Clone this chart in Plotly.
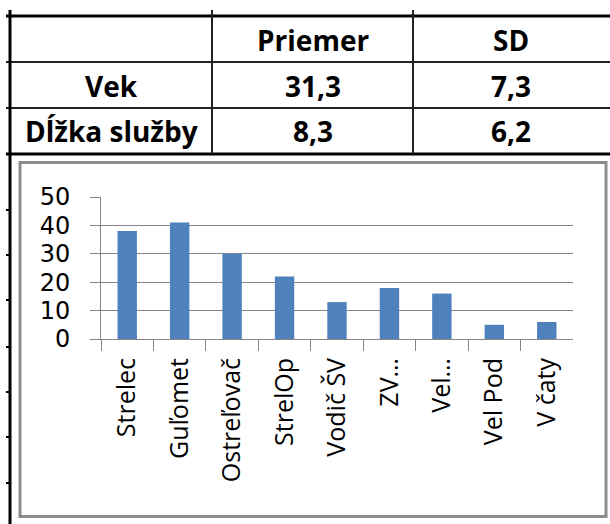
import plotly.graph_objects as go

# ---- data ----
table_cols = ["", "Priemer", "SD"]
table_rows = ["Vek", "Dĺžka služby"]
priemer = ["31,3", "8,3"]
sd = ["7,3", "6,2"]

categories = ["Strelec", "Guľomet", "Ostreľovač", "StrelOp", "Vodič ŠV",
              "ZV…", "Vel…", "Vel Pod", "V čaty"]
counts = [38, 41, 30, 22, 13, 18, 16, 5, 6]
y_ticks = [0, 10, 20, 30, 40, 50]

W, H = 610, 524


def px(x):
    return x / W


def py(y):
    return 1 - y / H


fig = go.Figure()
fig.add_trace(go.Bar(x=categories, y=counts, marker=dict(color="#4F81BD", line=dict(width=0)),
                     hoverinfo="skip"))

shapes = []
# chart border
shapes.append(dict(type="rect", xref="paper", yref="paper", x0=px(20), x1=px(606),
                   y0=py(516.5), y1=py(162.5), line=dict(color="#8c8c8c", width=3),
                   fillcolor="white", layer="below"))
# table grid
col_x = [212, 413]
row_y = [62, 108]
top_y, bot_y, left_x = 16, 154, 10
shapes.append(dict(type="line", xref="paper", yref="paper", x0=px(6), x1=1,
                   y0=py(top_y), y1=py(top_y), line=dict(color="#000", width=3)))
shapes.append(dict(type="line", xref="paper", yref="paper", x0=px(6), x1=1,
                   y0=py(bot_y), y1=py(bot_y), line=dict(color="#000", width=3)))
for ry in row_y:
    shapes.append(dict(type="line", xref="paper", yref="paper", x0=px(6), x1=1,
                       y0=py(ry), y1=py(ry), line=dict(color="#222", width=2)))
for cx in col_x:
    shapes.append(dict(type="line", xref="paper", yref="paper", x0=px(cx), x1=px(cx),
                       y0=py(10), y1=py(bot_y), line=dict(color="#222", width=2)))
shapes.append(dict(type="line", xref="paper", yref="paper", x0=px(left_x), x1=px(left_x),
                   y0=py(10), y1=0, line=dict(color="#000", width=3)))
for ty in [210, 255, 300, 347, 392, 437, 483]:
    shapes.append(dict(type="line", xref="paper", yref="paper", x0=px(6), x1=px(left_x),
                       y0=py(ty), y1=py(ty), line=dict(color="#000", width=2)))

# table text
annotations = []
col_centers = [111, 312.5, 511]
row_centers = [40, 86, 131]
font_tbl = dict(family="Open Sans", size=28, color="#000")
for j, t in enumerate(table_cols):
    if t:
        annotations.append(dict(x=px(col_centers[j]), y=py(row_centers[0]), xref="paper", yref="paper",
                                text="<b>%s</b>" % t, showarrow=False, font=font_tbl,
                                xanchor="center", yanchor="middle"))
for i, r in enumerate(table_rows):
    vals = [r, priemer[i], sd[i]]
    for j, v in enumerate(vals):
        annotations.append(dict(x=px(col_centers[j]), y=py(row_centers[i + 1]), xref="paper", yref="paper",
                                text="<b>%s</b>" % v, showarrow=False, font=font_tbl,
                                xanchor="center", yanchor="middle"))

fig.update_layout(
    width=W, height=H, margin=dict(l=0, r=0, t=0, b=0, pad=0, autoexpand=False),
    paper_bgcolor="white", plot_bgcolor="white",
    showlegend=False, bargap=0.63,
    shapes=shapes, annotations=annotations,
    xaxis=dict(domain=[px(101), px(573)], type="category", range=[-0.5, 8.5],
               automargin=False,
               tickson="boundaries", ticks="outside", ticklen=11, tickcolor="#868686",
               tickwidth=1, showline=True, linecolor="#868686", linewidth=1,
               showgrid=False, tickangle=-90, ticklabelstandoff=8,
               tickfont=dict(family="Open Sans", size=25, color="#000")),
    yaxis=dict(domain=[py(339), py(197)], range=[0, 50], tickvals=y_ticks,
               automargin=False,
               showgrid=True, gridcolor="#868686", gridwidth=1,
               showline=True, linecolor="#868686", linewidth=1, zeroline=False,
               ticks="outside", ticklen=10, tickcolor="#868686", tickwidth=1,
               ticklabelstandoff=15,
               tickfont=dict(family="DejaVu Sans", size=24, color="#000")),
)

fig.write_html("out.html", config={"displayModeBar": False},
               post_script="document.body.style.margin='0px';")
